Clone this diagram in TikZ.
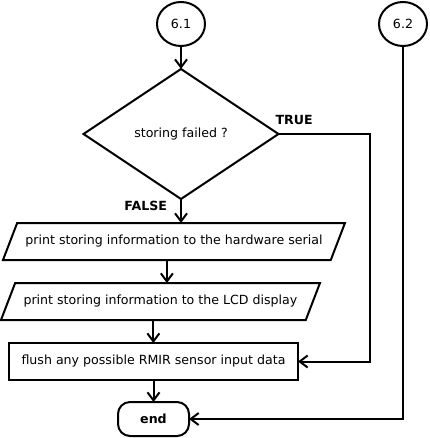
\documentclass[tikz,border=0pt]{standalone}
\usepackage{fontspec}
\setmainfont{DejaVu Sans}
\usetikzlibrary{positioning,calc,shapes.geometric,arrows.meta}

\begin{document}
\begin{tikzpicture}[x=1pt,y=1pt,line width=2pt,
    >={Straight Barb[length=8pt,width=12pt]},
    connector/.style={ellipse,draw=black,fill=white,inner sep=0pt, minimum width=48pt, minimum height=44pt},
    decision/.style={diamond,draw=black,inner sep=0pt, minimum width=195pt, minimum height=130pt},
    io/.style={trapezium,trapezium left angle=69,trapezium right angle=111, trapezium stretches body,draw=black,inner xsep=0pt, inner ysep=12.25pt, text height=9.5pt, text depth=3pt},
    process/.style={rectangle,draw=black, minimum width=289pt, minimum height=37pt},
    terminal/.style={rectangle,rounded corners=12pt,draw=black, minimum width=71pt, minimum height=34pt, font=\flowfont\bfseries},
    flowlbl/.style={inner sep=0pt, font=\flowfont\bfseries},
    every node/.style={font=\flowfont, outer sep=0pt}
    ]
    \def\flowfont{\fontsize{12.6}{15}\selectfont}
    \useasboundingbox (0,0) rectangle (429,-438);

    % connectors and the decision
    \node[connector] (c61) at (181,-24) {6.1};
    \node[connector, right=174pt of c61] (c62) {6.2};
    \node[decision, below=23pt of c61] (dec) {storing failed ?};

    % the FALSE branch
    \node[io, minimum width=342pt, below=24pt of dec, xshift=-7pt] (p1) {print storing information to the hardware serial};
    \node[io, minimum width=319pt, below=23pt of p1, xshift=-13.5pt] (p2) {print storing information to the LCD display};
    \node[process, below=23pt of p2, xshift=-7pt] (flush) {flush any possible RMIR sensor input data};
    \node[terminal, below=22pt of flush] (end) {end};

    % middle of the lower edge of each parallelogram
    \coordinate (p1b) at ($(p1.bottom left corner)!0.5!(p1.bottom right corner)$);
    \coordinate (p2b) at ($(p2.bottom left corner)!0.5!(p2.bottom right corner)$);

    \draw[->] (c61) -- (dec);
    \draw[->] (dec.south) -- node[flowlbl, pos=0.3, left=14pt] (lfalse) {FALSE} (dec.south |- p1.north);
    \draw[->] (p1b) -- (p1b |- p2.north);
    \draw[->] (p2b) -- (p2b |- flush.north);
    \draw[->] (flush) -- (end);

    % the TRUE branch and 6.2
    \node[flowlbl, anchor=south west, xshift=-3pt, yshift=9pt] (ltrue) at (dec.east) {TRUE};
    \draw[->] (dec.east) -- ++(91,0) |- (flush.east);
    \draw[->] (c62) |- (end);
\end{tikzpicture}
\end{document}
